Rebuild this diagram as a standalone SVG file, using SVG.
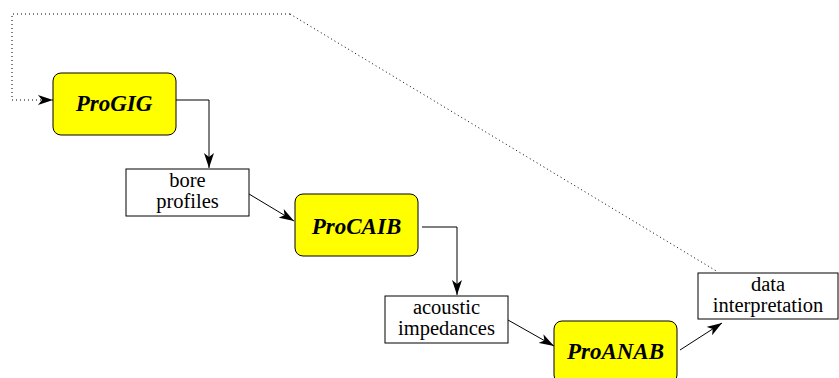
<svg xmlns="http://www.w3.org/2000/svg" width="839" height="378" viewBox="0 0 839 378">
<style>
.proc{fill:#ffff00;stroke:#000;stroke-width:1}
.data{fill:#fff;stroke:#000;stroke-width:1}
.pt{font-family:"Liberation Serif","Times New Roman",serif;font-weight:bold;font-style:italic;font-size:23px;text-anchor:middle}
.dt{font-family:"Liberation Serif","Times New Roman",serif;font-size:20.5px;text-anchor:middle}
.c{fill:none;stroke:#000;stroke-width:1}
.dot{fill:none;stroke:#000;stroke-width:1;stroke-dasharray:1 3}
</style>
<defs>
<marker id="a" markerWidth="16" markerHeight="10" refX="15" refY="5" orient="auto" markerUnits="userSpaceOnUse">
<path d="M0,0 L15,5 L0,10 L4,5 Z" fill="#000"/>
</marker>
</defs>
<rect width="839" height="378" fill="#fff"/>
<g id="connectors">
<path class="dot" d="M290,14 L12,14 L12,100 L53,100" marker-end="url(#a)"/>
<path class="dot" d="M290,14 L718,272"/>
<path class="c" d="M176,100 L209,100 L209,168" marker-end="url(#a)"/>
<path class="c" d="M249,194 L294,221" marker-end="url(#a)"/>
<path class="c" d="M422,227 L457,227 L457,295" marker-end="url(#a)"/>
<path class="c" d="M508,320 L554,346" marker-end="url(#a)"/>
<path class="c" d="M680,350 L722,323" marker-end="url(#a)"/>
</g>
<g id="ProGIG">
<rect class="proc" x="53" y="73" width="123" height="62" rx="8"/>
<text class="pt" x="114" y="111">ProGIG</text>
</g>
<g id="bore">
<rect class="data" x="126" y="169" width="123" height="47"/>
<text class="dt" x="187.5" y="187">bore</text>
<text class="dt" x="187.5" y="208">profiles</text>
</g>
<g id="ProCAIB">
<rect class="proc" x="295" y="194" width="123" height="62" rx="8"/>
<text class="pt" x="356.5" y="234">ProCAIB</text>
</g>
<g id="acoustic">
<rect class="data" x="385" y="296" width="123" height="47"/>
<text class="dt" x="446.5" y="314">acoustic</text>
<text class="dt" x="446.5" y="335">impedances</text>
</g>
<g id="ProANAB">
<rect class="proc" x="554" y="321" width="123" height="62" rx="8"/>
<text class="pt" x="615.5" y="359">ProANAB</text>
</g>
<g id="interp">
<rect class="data" x="698" y="273" width="140" height="46"/>
<text class="dt" x="768" y="291">data</text>
<text class="dt" x="768" y="312">interpretation</text>
</g>
</svg>
